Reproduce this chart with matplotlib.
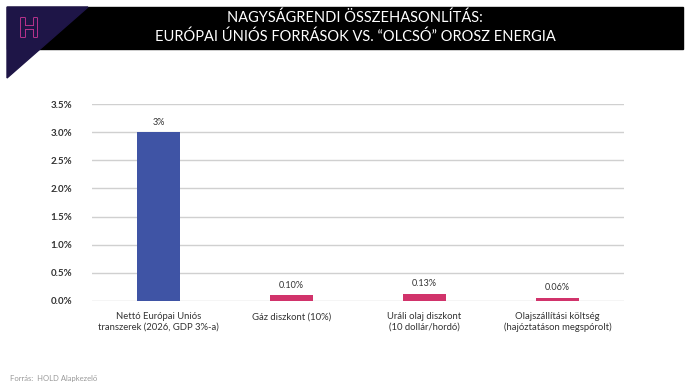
import matplotlib
matplotlib.use("Agg")
import matplotlib.pyplot as plt
import matplotlib.patheffects as pe
from matplotlib.patches import Polygon, Rectangle

plt.rcParams['font.family'] = ['Lato', 'DejaVu Sans']

categories = ["Nettó Európai Uniós\ntranszerek (2026, GDP 3%-a)",
              "Gáz diszkont (10%)",
              "Uráli olaj diszkont\n(10 dollár/hordó)",
              "Olajszállítási költség\n(hajóztatáson megspórolt)"]
values = [3.0, 0.10, 0.13, 0.06]
value_labels = ["3%", "0.10%", "0.13%", "0.06%"]
yticks = [0.0, 0.5, 1.0, 1.5, 2.0, 2.5, 3.0, 3.5]
title_lines = ["NAGYSÁGRENDI ÖSSZEHASONLÍTÁS:",
               "EURÓPAI ÚNIÓS FORRÁSOK VS. \u201cOLCSÓ\u201d OROSZ ENERGIA"]
colors = ["#3F54A5", "#D1336B", "#D1336B", "#D1336B"]

W, H = 690, 388
fig = plt.figure(figsize=(W/100, H/100), dpi=100)
fig.patch.set_facecolor("white")

# header band
bg = fig.add_axes([0, 0, 1, 1], zorder=0)
bg.set_xlim(0, W); bg.set_ylim(H, 0); bg.axis("off")
bg.add_patch(Rectangle((7, 7), 676, 42, color="black"))
bg.add_patch(Polygon([(7, 7), (88, 7), (7, 78)], closed=True, color="#1E1547"))
# logo H outline
bg.text(29, 29, "H", color="#1E1547", fontsize=19, ha="center", va="center",
        fontweight="bold",
        path_effects=[pe.withStroke(linewidth=1.4, foreground="#B8328C")])
bg.text(355, 18, title_lines[0], color="white", fontsize=10.5, ha="center", va="center")
bg.text(355, 37, title_lines[1], color="white", fontsize=10.5, ha="center", va="center")
bg.text(10, 378, "Forrás:  HOLD Alapkezelő", color="#999999", fontsize=5.5, ha="left", va="center")

# plot axes: x 92..624, y 104..301
ax = fig.add_axes([92/W, 1-301/H, (624-92)/W, (301-104)/H], zorder=1)
ax.patch.set_alpha(0)
x = range(len(categories))
ax.bar(x, values, width=0.32, color=colors, zorder=2)
for i, (v, lab) in enumerate(zip(values, value_labels)):
    ax.text(i, v + 0.1, lab, ha="center", va="bottom", fontsize=6.5, color="#333333")
ax.set_ylim(0, 3.5)
ax.set_xlim(-0.5, 3.5)
ax.set_yticks(yticks)
ax.set_yticklabels([f"{t:.1f}%" for t in yticks], fontsize=7, fontweight="bold", color="#333333")
ax.set_xticks(list(x))
ax.set_xticklabels(categories, fontsize=6.8, color="#333333")
ax.tick_params(axis="both", length=0)
ax.tick_params(axis="y", pad=14)
ax.tick_params(axis="x", pad=8)
ax.yaxis.grid(True, color="#D0D0D0", linewidth=1, zorder=0)
for s in ax.spines.values():
    s.set_visible(False)

fig.savefig("out.png", dpi=100)
